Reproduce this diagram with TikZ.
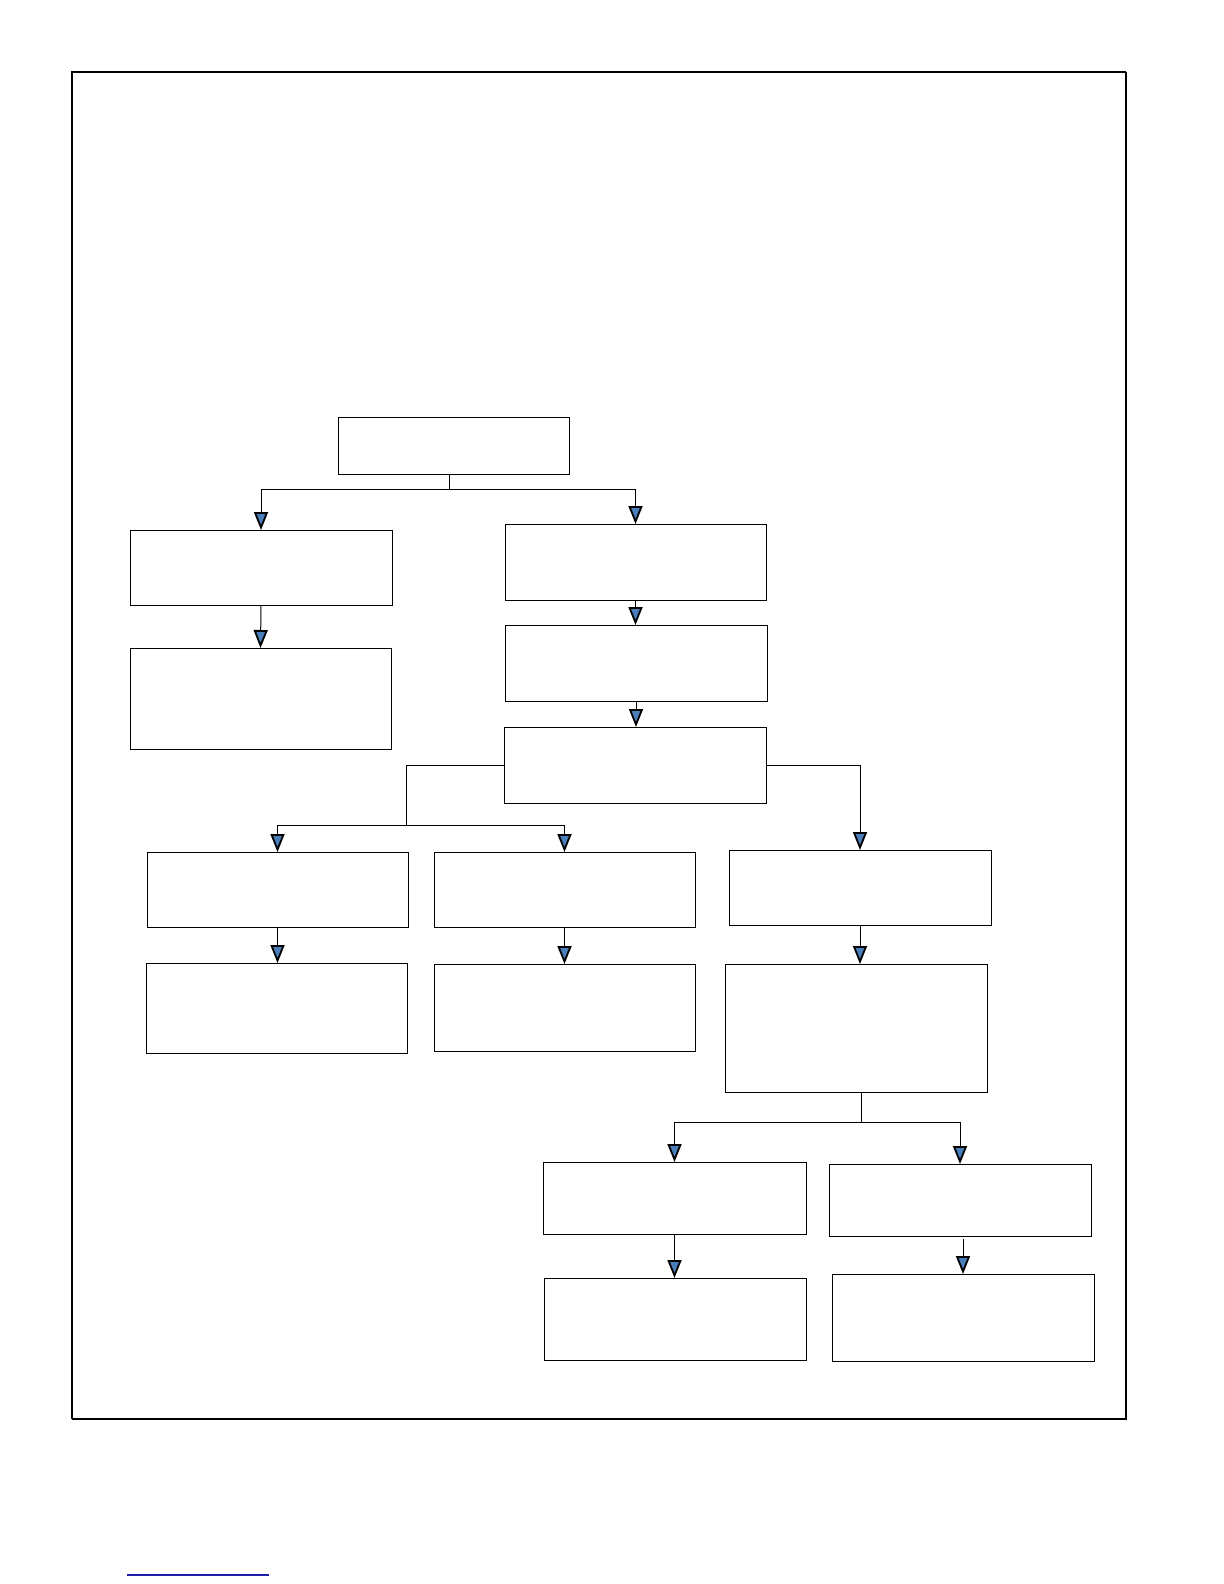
\documentclass[tikz,border=0pt]{standalone}
\usepackage{tikz}
\usetikzlibrary{arrows.meta}
\definecolor{arrowblue}{RGB}{74,126,187}
\definecolor{rulenavy}{RGB}{30,30,170}

\begin{document}
\begin{tikzpicture}[x=0.5pt,y=-0.5pt,line width=0.5pt,>={Triangle[width=7pt,length=9pt,fill=arrowblue,line width=0.9pt]}]
\tikzstyle{box}=[draw=black,fill=white,inner sep=0pt,outer sep=0pt]
\useasboundingbox (0,0) rectangle (1224,1584);
% frame
\draw[line width=0.6pt] (72,1419) -- (72,72) -- (1126,72);
\draw[line width=1.2pt] (1126,72) -- (1126,1419) -- (72,1419);
% boxes
\node[box,minimum width=115.5pt,minimum height=28.5pt] (top) at (453.5,445.5) {};
\node[box,minimum width=131pt,minimum height=37.5pt] (L1) at (261,567.5) {};
\node[box,minimum width=130.5pt,minimum height=50.5pt] (L2) at (260.5,698.5) {};
\node[box,minimum width=130.5pt,minimum height=38pt] (R1) at (635.5,562) {};
\node[box,minimum width=131pt,minimum height=38pt] (R2) at (636,663) {};
\node[box,minimum width=131pt,minimum height=38pt] (R3) at (635,765) {};
\node[box,minimum width=130.5pt,minimum height=37.5pt] (B1) at (277.5,889.5) {};
\node[box,minimum width=130.5pt,minimum height=45pt] (B2) at (276.5,1008) {};
\node[box,minimum width=130.5pt,minimum height=37.5pt] (C1) at (564.5,889.5) {};
\node[box,minimum width=130.5pt,minimum height=43.5pt] (C2) at (564.5,1007.5) {};
\node[box,minimum width=131pt,minimum height=37.5pt] (M1) at (860,887.5) {};
\node[box,minimum width=131pt,minimum height=64pt] (M2) at (856,1028) {};
\node[box,minimum width=131.5pt,minimum height=36pt] (D1) at (674.5,1198) {};
\node[box,minimum width=131pt,minimum height=41pt] (D2) at (675,1319) {};
\node[box,minimum width=131pt,minimum height=36pt] (E1) at (960,1200) {};
\node[box,minimum width=131pt,minimum height=43.5pt] (E2) at (963,1317.5) {};
% forks
\coordinate (fork1) at (449,489);
\coordinate (fork2) at (406,825);
\coordinate (fork3) at (861,1122);
% connectors
\draw (top.south -| fork1) -- (fork1);
\draw[->] (fork1) -| (L1.north);
\draw[->] (fork1) -| (R1.north);
\draw[->] (L1.south) -- (L2.north);
\draw[->] (R1.south) -- (R1.south |- R2.north);
\draw[->] (R2.south) -- (R2.south |- R3.north);
\draw (R3.west) -| (fork2);
\draw[->] (fork2) -| (B1.north);
\draw[->] (fork2) -| (C1.north);
\draw[->] (R3.east) -| (M1.north);
\draw[->] (B1.south) -- (B1.south |- B2.north);
\draw[->] (C1.south) -- (C1.south |- C2.north);
\draw[->] (M1.south) -- (M1.south |- M2.north);
\draw (M2.south -| fork3) -- (fork3);
\draw[->] (fork3) -| (D1.north);
\draw[->] (fork3) -| (E1.north);
\draw[->] (D1.south) -- (D1.south |- D2.north);
\draw[->] ([yshift=-1.5pt]E1.south -| E2.north) -- (E2.north);
% rule below the frame
\draw[rulenavy,line width=0.6pt] (127,1575) -- (269,1575);
\end{tikzpicture}
\end{document}
